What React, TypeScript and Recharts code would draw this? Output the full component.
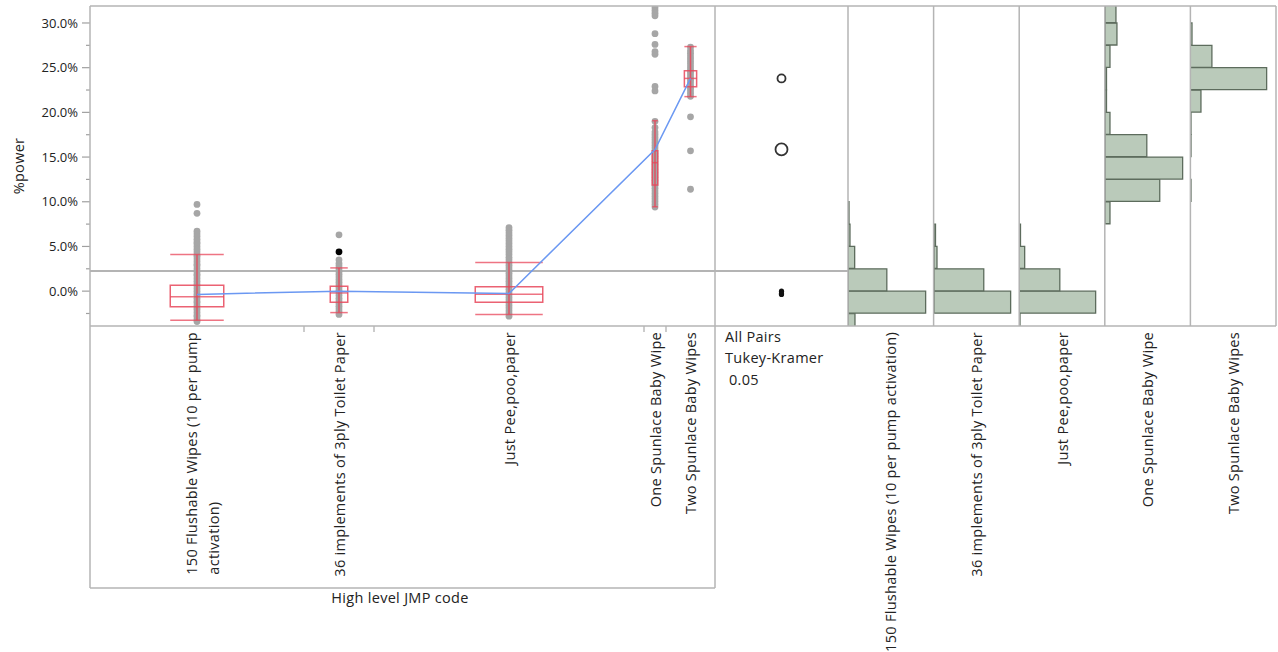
import React, { useLayoutEffect, useRef, useState } from 'react';
import {
  ComposedChart,
  BarChart,
  Bar,
  Scatter,
  Line,
  XAxis,
  YAxis,
  ReferenceArea,
  ReferenceLine,
} from 'recharts';

// groups (x axis categories)
const groupNames = [
  '150 Flushable Wipes (10 per pump activation)',
  '36 implements of 3ply Toilet Paper',
  'Just Pee,poo,paper',
  'One Spunlace Baby Wipe',
  'Two Spunlace Baby Wipes',
];
const axisLabelLines = [
  ['150 Flushable Wipes (10 per pump', 'activation)'],
  ['36 implements of 3ply Toilet Paper'],
  ['Just Pee,poo,paper'],
  ['One Spunlace Baby Wipe'],
  ['Two Spunlace Baby Wipes'],
];
// relative group sizes (x axis is proportional to group size)
const groupN = [214, 70, 270, 22, 49];

// %power observations per group
const pts1 = [-3.4, -3.2, -2.9, -2.7, -2.4, -2.1, -1.9, -1.6, -1.3, -1.1, -0.8, -0.5, -0.3, 0.0, 0.3, 0.6, 0.8, 1.1, 1.4, 1.7, 1.9, 2.2, 2.5, 2.8, 3.0, 3.3, 3.6, 3.9, 4.1, 4.4, 4.7, 5.0, 5.3, 5.5, 5.8, 6.1, 6.4, 6.7, 8.7, 9.7];
const pts2 = [-2.6, -2.3, -2.0, -1.7, -1.4, -1.1, -0.8, -0.5, -0.2, 0.1, 0.4, 0.7, 1.0, 1.3, 1.6, 1.9, 2.2, 2.5, 2.8, 3.1, 3.5, 6.3];
const pts3 = [-2.8, -2.5, -2.2, -1.9, -1.6, -1.3, -1.0, -0.7, -0.4, -0.1, 0.2, 0.5, 0.8, 1.1, 1.4, 1.7, 2.0, 2.3, 2.6, 2.9, 3.2, 3.5, 3.8, 4.1, 4.4, 4.7, 5.0, 5.3, 5.6, 5.9, 6.2, 6.5, 6.8, 7.1];
const pts4 = [9.4, 9.7, 10.0, 10.3, 10.6, 10.9, 11.2, 11.5, 11.8, 12.1, 12.4, 12.7, 13.0, 13.3, 13.6, 13.9, 14.2, 14.5, 14.8, 15.1, 15.4, 15.7, 16.0, 16.3, 16.6, 16.9, 17.2, 17.5, 17.8, 18.3, 19.0, 22.4, 22.9, 26.5, 26.8, 27.6, 28.8, 30.8, 31.1, 31.4, 31.7];
const pts5 = [11.4, 15.7, 19.5, 21.8, 22.1, 22.4, 22.7, 23.0, 23.3, 23.6, 23.9, 24.2, 24.5, 24.8, 25.1, 25.4, 25.7, 26.0, 26.3, 26.6, 26.9, 27.3];
const groupPoints = [pts1, pts2, pts3, pts4, pts5];
// selected row (black)
const selectedGroup = 1;
const selectedValue = 4.4;

// box plot summaries
const whiskerLow = [-3.25, -2.4, -2.6, 9.44, 21.76];
const quart1 = [-1.75, -1.23, -1.23, 11.87, 22.88];
const medians = [-0.64, -0.2, -0.34, 14.37, 23.8];
const quart3 = [0.67, 0.56, 0.48, 15.7, 24.67];
const whiskerHigh = [4.1, 2.6, 3.2, 19.07, 27.36];

// means and comparison circle half widths
const groupMeans = [-0.37, 0.0, -0.26, 15.85, 23.8];
const circleHalf = [0.22, 0.22, 0.2, 0.67, 0.45];
const grandMean = 2.24;

// histograms: bins of 2.5% starting at
const binStarts = [-5, -2.5, 0, 2.5, 5, 7.5, 10, 12.5, 15, 17.5, 20, 22.5, 25, 27.5, 30];
const hist1 = [7, 78, 39, 6.7, 2, 1, 0, 0, 0, 0, 0, 0, 0, 0, 0];
const hist2 = [0, 77, 50, 3, 1.5, 0, 0, 0, 0, 0, 0, 0, 0, 0, 0];
const hist3 = [1, 77, 41, 5.7, 1.5, 0, 0, 0, 0, 0, 0, 0, 0, 0, 0];
const hist4 = [0, 0, 0, 0, 0, 5, 55, 78, 42, 5, 1.5, 1.5, 5, 12, 11];
const hist5 = [0, 0, 0, 0, 0, 0, 1, 0, 1, 1, 11, 77, 22, 2, 0];
const histograms = [hist1, hist2, hist3, hist4, hist5];

const yTicks = [-2.5, 0, 2.5, 5, 7.5, 10, 12.5, 15, 17.5, 20, 22.5, 25, 27.5, 30];
const yDomain: [number, number] = [-3.9, 31.9];

const FONT = "'Open Sans', 'Noto Sans', sans-serif";
const LABEL_SIZE = 14.5;
const TEXT = '#222';
const FRAME = '#b4b4b4';
const RED = '#e8465a';

// derived positions on the proportional x axis
const starts: number[] = [];
groupN.reduce((acc, n) => {
  starts.push(acc);
  return acc + n;
}, 0);
const total = groupN.reduce((a, b) => a + b, 0);
const centers = groupN.map((n, i) => starts[i] + n / 2);
const boundaries = starts.slice(1);
const boxHalf = groupN.map((n) => n * 0.125);

const scatterData = groupPoints.flatMap((vals, i) =>
  vals.map((v) => ({ x: centers[i], y: v }))
);
const selectedData = [{ x: centers[selectedGroup], y: selectedValue }];
const meanData = groupMeans.map((m, i) => ({ x: centers[i], y: m }));
const compData = groupMeans.map((m, i) => ({ x: 0.5, y: m, half: circleHalf[i] }));

const YTick = (props: any) => {
  const { x, y, payload } = props;
  const v = payload.value;
  const major = Math.abs(v % 5) < 1e-9;
  return (
    <g>
      <line x1={x - (major ? 8 : 4)} x2={x} y1={y} y2={y} stroke="#a0a0a0" strokeWidth={1.2} />
      {major && (
        <text x={x - 12} y={y} dy="0.35em" textAnchor="end" fontSize={13} fill={TEXT} fontFamily={FONT}>
          {v.toFixed(1)}%
        </text>
      )}
    </g>
  );
};

const CatTick = (props: any) => {
  const { x, y, payload } = props;
  const ref = useRef<SVGTextElement>(null);
  const [len, setLen] = useState(0);
  useLayoutEffect(() => {
    if (ref.current) setLen(ref.current.getComputedTextLength());
  }, []);
  const v = payload.value;
  if (boundaries.some((b) => Math.abs(b - v) < 1e-6)) {
    return <line x1={x} x2={x} y1={y} y2={y + 6} stroke="#aaa" strokeWidth={1.2} />;
  }
  const idx = centers.findIndex((c) => Math.abs(c - v) < 1e-6);
  const lines = axisLabelLines[idx] || [];
  const two = lines.length > 1;
  return (
    <g fontSize={LABEL_SIZE} letterSpacing={0.3} fill={TEXT} fontFamily={FONT}>
      <text
        ref={ref}
        transform={`translate(${x + (two ? -6 : 0)}, ${y + 6}) rotate(-90)`}
        textAnchor="end"
        dominantBaseline="central"
      >
        {lines[0]}
      </text>
      {two && (
        <text
          transform={`translate(${x + 16}, ${y + 6}) rotate(-90)`}
          x={-len}
          textAnchor="start"
          dominantBaseline="central"
        >
          {lines[1]}
        </text>
      )}
    </g>
  );
};

const CircleShape = (props: any) => {
  const { x, y, width, height } = props;
  const r = Math.abs(height) / 2;
  return <circle cx={x + width / 2} cy={y + height / 2} r={r} fill="none" stroke="#333" strokeWidth={1.8} />;
};

const panelW = 85.6;
const panelLeft = 848;

const App: React.FC = () => {
  return (
    <div style={{ position: 'absolute', left: 0, top: 0, width: 1278, height: 652, background: '#fff', fontFamily: FONT }}>
      {/* main oneway plot: axes and points */}
      <div style={{ position: 'absolute', left: 0, top: 0 }}>
        <ComposedChart width={716} height={590} margin={{ top: 6, right: 1, bottom: 0, left: 0 }}>
          <XAxis
            type="number"
            dataKey="x"
            domain={[0, total]}
            ticks={[...centers, ...boundaries]}
            interval={0}
            height={264}
            axisLine={false}
            tickLine={false}
            tickSize={0}
            tickMargin={0}
            tick={<CatTick />}
          />
          <YAxis
            type="number"
            dataKey="y"
            domain={yDomain}
            allowDataOverflow
            ticks={yTicks}
            interval={0}
            width={90}
            axisLine={false}
            tickLine={false}
            tickSize={0}
            tickMargin={0}
            tick={<YTick />}
          />
          <ReferenceLine y={grandMean} stroke={FRAME} strokeWidth={2} />
          <Scatter
            data={scatterData}
            isAnimationActive={false}
            shape={(p: any) => <circle cx={p.cx} cy={p.cy} r={3.4} fill="#a6a6a6" />}
          />
          <Scatter
            data={selectedData}
            isAnimationActive={false}
            shape={(p: any) => <circle cx={p.cx} cy={p.cy} r={3.4} fill="#000" />}
          />
        </ComposedChart>
      </div>

      {/* main oneway plot: box plots and means line, layered above points */}
      <div style={{ position: 'absolute', left: 0, top: 0 }}>
        <ComposedChart width={716} height={590} margin={{ top: 6, right: 1, bottom: 264, left: 90 }}>
          <XAxis type="number" dataKey="x" domain={[0, total]} hide />
          <YAxis type="number" dataKey="y" domain={yDomain} allowDataOverflow hide />
          {centers.map((c, i) => (
            <ReferenceLine
              key={`w${i}`}
              segment={[{ x: c, y: whiskerLow[i] }, { x: c, y: whiskerHigh[i] }]}
              stroke={RED}
              strokeOpacity={0.85}
              strokeWidth={1.5}
            />
          ))}
          {centers.map((c, i) => (
            <ReferenceArea
              key={`b${i}`}
              x1={c - boxHalf[i]}
              x2={c + boxHalf[i]}
              y1={quart1[i]}
              y2={quart3[i]}
              fill="none"
              stroke={RED}
              strokeOpacity={0.85}
              strokeWidth={1.5}
            />
          ))}
          {centers.map((c, i) =>
            [whiskerLow[i], medians[i], whiskerHigh[i]].map((v, k) => (
              <ReferenceLine
                key={`h${i}-${k}`}
                segment={[{ x: c - boxHalf[i], y: v }, { x: c + boxHalf[i], y: v }]}
                stroke={RED}
                strokeOpacity={0.75}
                strokeWidth={1.5}
              />
            ))
          )}
          <Line
            data={meanData}
            dataKey="y"
            stroke="#6b98f2"
            strokeWidth={1.5}
            dot={false}
            isAnimationActive={false}
          />
        </ComposedChart>
      </div>

      {/* comparison circles */}
      <div style={{ position: 'absolute', left: 715, top: 0 }}>
        <ComposedChart width={133} height={330} margin={{ top: 6, right: 0, bottom: 4, left: 0 }}>
          <XAxis type="number" dataKey="x" domain={[0, 1]} hide />
          <YAxis type="number" dataKey="y" domain={yDomain} allowDataOverflow hide />
          <ReferenceLine y={grandMean} stroke={FRAME} strokeWidth={2} />
          <Scatter
            data={compData}
            isAnimationActive={false}
            shape={(p: any) =>
              p.payload.half < 0.3 ? <circle cx={p.cx} cy={p.cy} r={2.6} fill="#111" /> : <g />
            }
          />
          {compData
            .filter((d) => d.half >= 0.3)
            .map((d, i) => (
              <ReferenceArea
                key={`c${i}`}
                x1={0.45}
                x2={0.55}
                y1={d.y - d.half}
                y2={d.y + d.half}
                ifOverflow="visible"
                shape={<CircleShape />}
              />
            ))}
        </ComposedChart>
      </div>

      {/* histograms */}
      {histograms.map((h, i) => (
        <div key={`hist${i}`} style={{ position: 'absolute', left: panelLeft + i * panelW, top: 0 }}>
          <BarChart
            layout="vertical"
            width={panelW}
            height={330}
            data={binStarts.map((b, k) => ({ mid: b + 1.25, w: h[k] }))}
            margin={{ top: 6, right: 0, bottom: 4, left: 0 }}
            barCategoryGap={0}
            barGap={0}
          >
            <XAxis type="number" domain={[0, 86]} hide />
            <YAxis type="number" dataKey="mid" domain={yDomain} allowDataOverflow reversed hide />
            <Bar dataKey="w" fill="#bacaba" stroke="#5d6c5d" strokeWidth={1.3} isAnimationActive={false} />
          </BarChart>
        </div>
      ))}

      {/* frames and panel text */}
      <svg width={1278} height={652} style={{ position: 'absolute', left: 0, top: 0, pointerEvents: 'none' }}>
        <g stroke={FRAME} strokeWidth={1.5} fill="none">
          <line x1={90} x2={1276} y1={6} y2={6} />
          <line x1={90} x2={1276} y1={326} y2={326} />
          <line x1={90} x2={715} y1={588} y2={588} />
          <line x1={90} x2={90} y1={6} y2={588} />
          <line x1={715} x2={715} y1={6} y2={588} />
          {[0, 1, 2, 3, 4, 5].map((k) => (
            <line key={k} x1={panelLeft + k * panelW} x2={panelLeft + k * panelW} y1={6} y2={326} />
          ))}
        </g>
        <g fontSize={LABEL_SIZE} letterSpacing={0.3} fill={TEXT} fontFamily={FONT}>
          <text transform="translate(18, 166) rotate(-90)" textAnchor="middle" dominantBaseline="central">
            %power
          </text>
          <text x={400} y={603} textAnchor="middle">
            High level JMP code
          </text>
          <text x={725} y={342}>All Pairs</text>
          <text x={725} y={363}>Tukey-Kramer</text>
          <text x={729} y={385}>0.05</text>
          {groupNames.map((name, i) => (
            <text
              key={name}
              transform={`translate(${panelLeft + (i + 0.5) * panelW}, 332) rotate(-90)`}
              textAnchor="end"
              dominantBaseline="central"
            >
              {name}
            </text>
          ))}
        </g>
      </svg>
    </div>
  );
};

export default App;
